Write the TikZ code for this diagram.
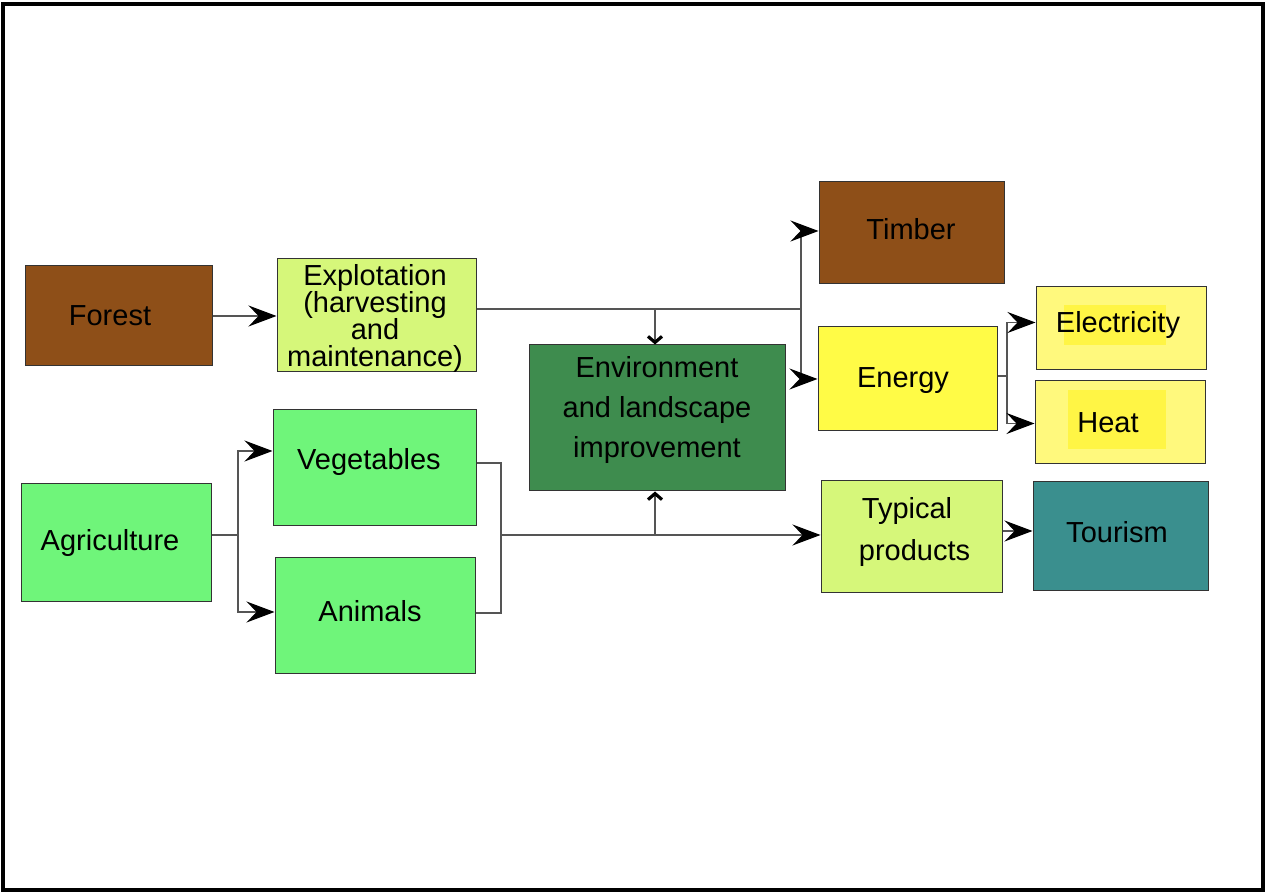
\documentclass[tikz,border=0pt]{standalone}
\usepackage{fontspec}
\setmainfont{Liberation Sans}
\usetikzlibrary{arrows.meta}
\newcommand\mytightlines{\setlength{\lineskiplimit}{-20pt}}
\definecolor{cbrown}{HTML}{8E4F18}
\definecolor{clime}{HTML}{D6F77A}
\definecolor{cgreen}{HTML}{6FF57A}
\definecolor{cenv}{HTML}{3E8C4E}
\definecolor{cenergy}{HTML}{FFFB46}
\definecolor{clight}{HTML}{FFF97D}
\definecolor{chigh}{HTML}{FFF545}
\definecolor{cteal}{HTML}{3A8F8E}
\definecolor{cline}{HTML}{555555}
\tikzset{
  box/.style={draw=black!80, line width=0.5pt, rectangle, inner sep=0pt},
  txt/.style={font=\fontsize{14.5}{13.5}\selectfont\mytightlines, inner sep=0pt, align=center},
  conn/.style={draw=cline, line width=0.6pt},
  arr/.style={conn, -{Stealth[length=14pt,width=10.5pt,inset=5pt,black]}},
  barb/.style={conn, -{Straight Barb[length=3pt,width=7pt,line width=1.6pt,black]}}
}
\begin{document}
\begin{tikzpicture}[x=0.5pt,y=-0.5pt]
\useasboundingbox (0,0) rectangle (1266,893);
\draw[line width=1.6pt] (3,4) rectangle (1263,890);
% boxes
\node[box, fill=cbrown, minimum width=93.5pt, minimum height=50pt] (forest) at (118.5,316) {};
\node[box, fill=clime, minimum width=99.5pt, minimum height=56.5pt] (explo) at (376.5,315.5) {};
\node[box, fill=cenv, minimum width=128pt, minimum height=73pt] (env) at (657,418) {};
\node[box, fill=cbrown, minimum width=92.5pt, minimum height=51pt] (timber) at (911.5,233) {};
\node[box, fill=cenergy, minimum width=89.5pt, minimum height=52pt] (energy) at (907.5,379) {};
\node[box, fill=clight, minimum width=85pt, minimum height=41.5pt] (elec) at (1121,328.5) {};
\node[box, fill=clight, minimum width=85pt, minimum height=41.5pt] (heat) at (1120,422.5) {};
\node[box, fill=cgreen, minimum width=95pt, minimum height=59pt] (agri) at (116,543) {};
\node[box, fill=cgreen, minimum width=101.5pt, minimum height=58pt] (veg) at (374.5,468) {};
\node[box, fill=cgreen, minimum width=100pt, minimum height=58pt] (anim) at (375,616) {};
\node[box, fill=clime, minimum width=90.5pt, minimum height=56pt] (typ) at (911.5,537) {};
\node[box, fill=cteal, minimum width=87.5pt, minimum height=54.5pt] (tour) at (1120.5,536.5) {};
% highlights
\fill[chigh] (1064,305) rectangle (1166,345);
\fill[chigh] (1068,390) rectangle (1166,449);
% texts
\node[txt] (forestT) at (110,316) {Forest};
\node[txt] (exploT) at (375,318) {Explotation\\(harvesting\\and\\maintenance)};
\node[txt, font=\fontsize{14.5}{20}\selectfont] (envT) at (657,410) {Environment\\and landscape\\improvement};
\node[txt] (timberT) at (911,229) {Timber};
\node[txt] (energyT) at (903,381) {Energy};
\node[txt] (elecT) at (1118,325) {Electricity};
\node[txt] (heatT) at (1108,423) {Heat};
\node[txt] (agriT) at (110,543) {Agriculture};
\node[txt] (vegT) at (369,462) {Vegetables};
\node[txt] (animT) at (370,611) {Animals};
\node[txt, align=left, font=\fontsize{14.5}{21}\selectfont] (typT) at (914.5,532) {\hspace*{1.5pt}Typical\\products};
\node[txt] (tourT) at (1117,532) {Tourism};
% coordinates
\coordinate (j1) at (801,309);
\coordinate (j2) at (655,309);
\coordinate (j3) at (1007,376);
\coordinate (j4) at (238,535);
\coordinate (j5t) at (501,463);
\coordinate (j5b) at (501,613);
\coordinate (j5) at (501,535);
\coordinate (j6) at (655,535);
% connectors
\draw[arr] (forest.east) -- (explo.west |- forest.east);
\draw[conn] (explo.east |- j1) -- (j1);
\draw[arr] (j1) |- ([yshift=1pt]timber.west);
\draw[arr] (j1) |- (energy.west);
\draw[barb] (j2) -- (env.north -| j2);
\draw[conn] (energy.east |- j3) -- (j3);
\draw[arr] (j3) |- ([yshift=3pt]elec.west);
\draw[arr] (j3) |- ([yshift=-0.5pt]heat.west);
\draw[conn] (agri.east |- j4) -- (j4);
\draw[arr] (j4) |- ([yshift=8.5pt]veg.west);
\draw[arr] (j4) |- ([yshift=2pt]anim.west);
\draw[conn] (veg.east |- j5t) -- (j5t) -- (j5b) -- (anim.east |- j5b);
\draw[arr] (j5) -- (typ.west |- j5);
\draw[barb] (j6) -- (env.south -| j6);
\draw[arr] ([yshift=3pt]typ.east) -- ([yshift=3pt]typ.east -| tour.west);
\end{tikzpicture}
\end{document}
